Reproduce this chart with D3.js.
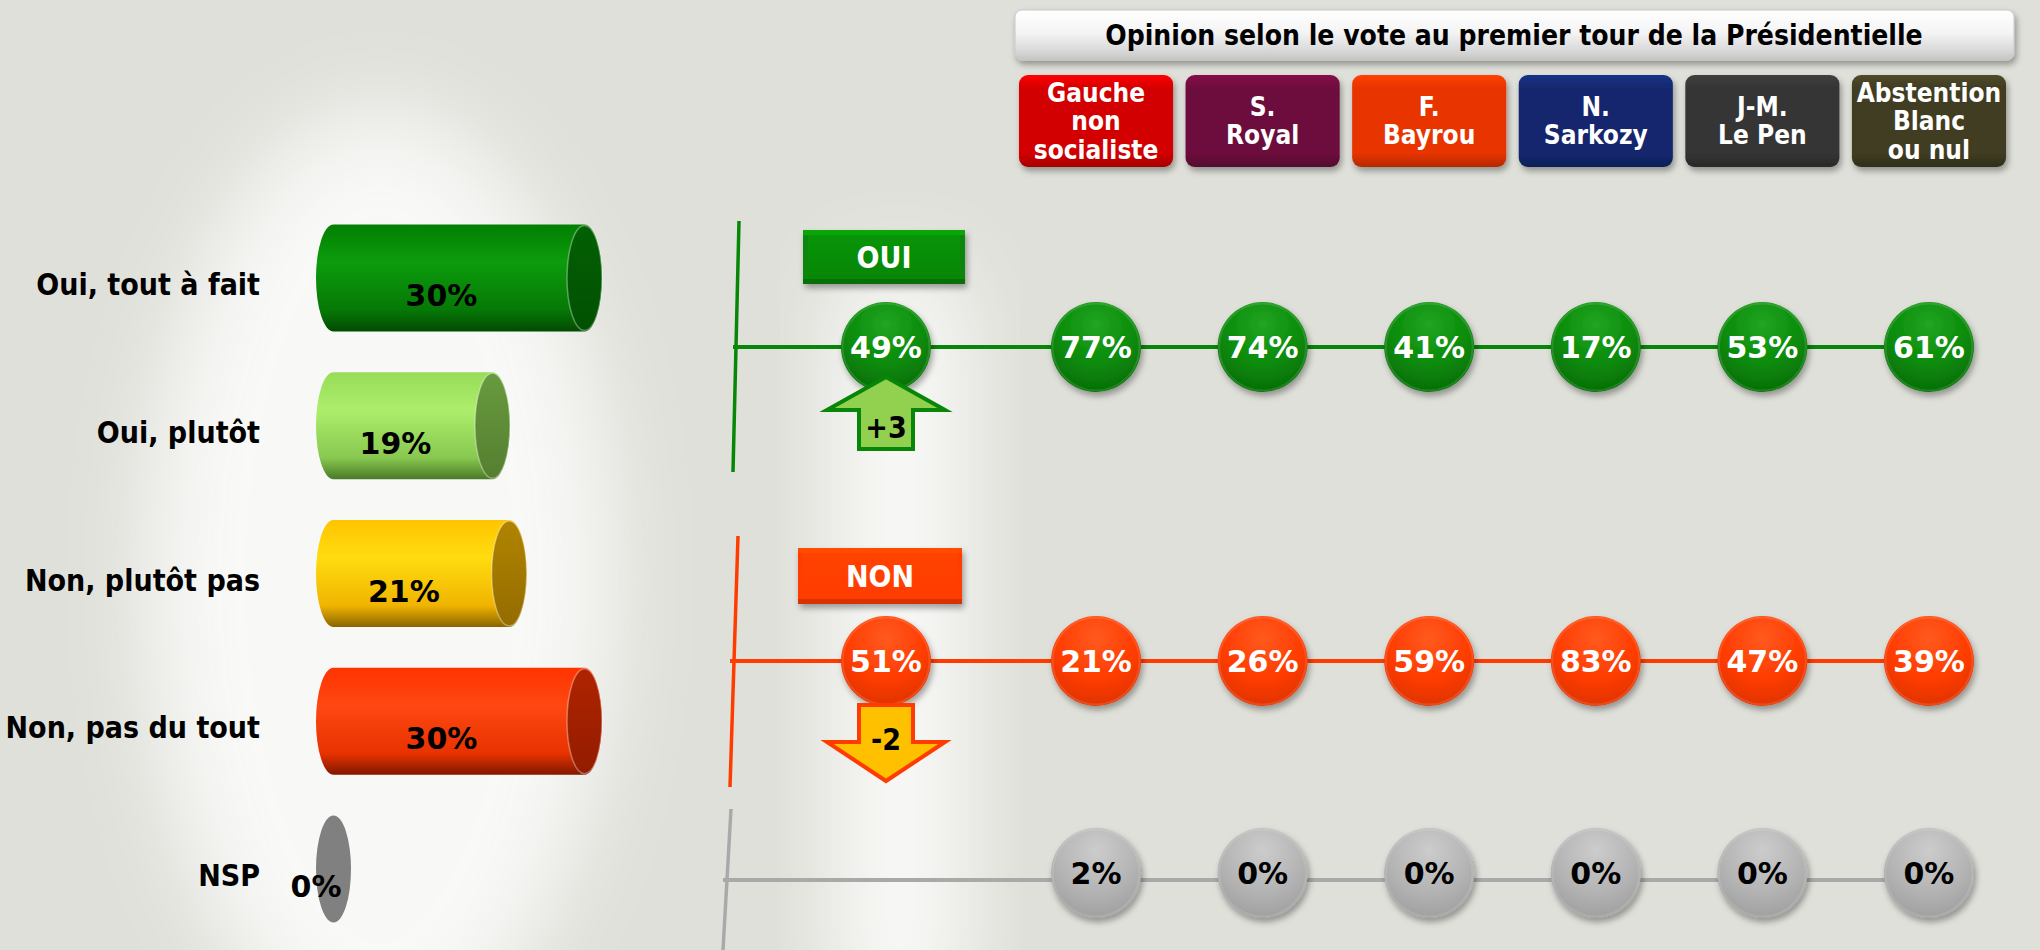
<!DOCTYPE html>
<html>
<head>
<meta charset="utf-8">
<script src="https://cdn.jsdelivr.net/npm/d3@7"></script>
<style>
  body { margin: 0; background: #e0e0da; }
  svg { display: block; }
</style>
</head>
<body>
<svg id="chart" width="2040" height="950"></svg>
<script>
// ---------------- DATA ----------------
const rowLabels = ["Oui, tout à fait", "Oui, plutôt", "Non, plutôt pas", "Non, pas du tout", "NSP"];
const rowValues = [30, 19, 21, 30, 0];

const candidates = ["Gauche non socialiste", "S. Royal", "F. Bayrou", "N. Sarkozy", "J-M. Le Pen", "Abstention Blanc ou nul"];
const candidateLines = [["Gauche", "non", "socialiste"], ["S.", "Royal"], ["F.", "Bayrou"], ["N.", "Sarkozy"], ["J-M.", "Le Pen"], ["Abstention", "Blanc", "ou nul"]];

const title = "Opinion selon le vote au premier tour de la Présidentielle";
const groupLabels = ["OUI", "NON"];
const totalValues = [49, 51];           // OUI, NON overall
const evolutions = ["+3", "-2"];        // change vs previous wave
const ouiByVote = [77, 74, 41, 17, 53, 61];
const nonByVote = [21, 26, 59, 83, 47, 39];
const nspByVote = [2, 0, 0, 0, 0, 0];

// ---------------- STYLES ----------------
const barStyles = [
  { body: ["#027f02", "#0c9c0c", "#067806", "#034a03"], cap: ["#036003", "#025002"] },
  { body: ["#98dc58", "#acee6c", "#88c850", "#4a7a26"], cap: ["#679a3e", "#557f30"] },
  { body: ["#ffc400", "#ffdc10", "#f0b400", "#8a6400"], cap: ["#b08400", "#946c00"] },
  { body: ["#ff3300", "#ff4812", "#e83200", "#801800"], cap: ["#b02400", "#921c00"] },
  { body: ["#808080", "#808080", "#808080", "#808080"], cap: ["#808080", "#808080"] }
];
const candColors = ["#d20000", "#6c0a3c", "#e83400", "#13286e", "#343434", "#3f3c22"];
const green = "#078607", red = "#ff3c00", grey = "#a9a9a9";

const FONT_C = "'DejaVu Sans Condensed','DejaVu Sans',sans-serif";
const FONT = "'DejaVu Sans',sans-serif";

const svg = d3.select("#chart");
const defs = svg.append("defs");

function linGrad(id, stops, vertical = true) {
  const g = defs.append("linearGradient").attr("id", id)
    .attr("x1", 0).attr("y1", 0).attr("x2", vertical ? 0 : 1).attr("y2", vertical ? 1 : 0);
  stops.forEach(s => g.append("stop").attr("offset", s[0]).attr("stop-color", s[1]).attr("stop-opacity", s[2] === undefined ? 1 : s[2]));
  return `url(#${id})`;
}
function radGrad(id, stops, cx = "50%", cy = "40%", r = "60%") {
  const g = defs.append("radialGradient").attr("id", id).attr("cx", cx).attr("cy", cy).attr("r", r);
  stops.forEach(s => g.append("stop").attr("offset", s[0]).attr("stop-color", s[1]).attr("stop-opacity", s[2] === undefined ? 1 : s[2]));
  return `url(#${id})`;
}
const shadow = defs.append("filter").attr("id", "shadow").attr("x", "-30%").attr("y", "-30%").attr("width", "160%").attr("height", "170%");
shadow.append("feDropShadow").attr("dx", 2).attr("dy", 4).attr("stdDeviation", 3).attr("flood-color", "#000").attr("flood-opacity", 0.35);
const blur = defs.append("filter").attr("id", "blur").attr("x", "-50%").attr("y", "-50%").attr("width", "200%").attr("height", "200%");
blur.append("feGaussianBlur").attr("stdDeviation", 45);

// ---------------- BACKGROUND ----------------
svg.append("rect").attr("width", 2040).attr("height", 950).attr("fill", "#e0e0da");
svg.append("ellipse").attr("cx", 380).attr("cy", 580).attr("rx", 230).attr("ry", 470)
  .attr("fill", "#ffffff").attr("opacity", 0.8).attr("filter", "url(#blur)");
svg.append("rect").attr("x", 840).attr("y", 270).attr("width", 120).attr("height", 760)
  .attr("fill", "#ffffff").attr("opacity", 0.85).attr("filter", "url(#blur)");

// ---------------- LEFT: CYLINDER BARS ----------------
const yRow = d3.scalePoint().domain(rowLabels).range([278, 869]);
const xLen = d3.scaleLinear().domain([0, 30]).range([0, 251]);
const barX0 = 316, capRx = 17.5, capRy = 53.5;

rowLabels.forEach((lab, i) => {
  const v = rowValues[i];
  const cy = yRow(lab);
  const st = barStyles[i];
  const xl = barX0 + capRx, xr = xl + xLen(v);
  const g = svg.append("g");
  if (v > 0) {
    const bodyFill = linGrad("bar" + i, [[0, st.body[0]], [0.35, st.body[1]], [0.8, st.body[2]], [1, st.body[3]]]);
    const capFill = linGrad("cap" + i, [[0, st.cap[0]], [1, st.cap[1]]]);
    g.append("path")
      .attr("d", `M${xl},${cy - capRy} L${xr},${cy - capRy} A${capRx},${capRy} 0 0 1 ${xr},${cy + capRy} L${xl},${cy + capRy} A${capRx},${capRy} 0 0 1 ${xl},${cy - capRy} Z`)
      .attr("fill", bodyFill);
    g.append("ellipse").attr("cx", xr).attr("cy", cy).attr("rx", capRx).attr("ry", capRy - 1)
      .attr("fill", capFill).attr("stroke", "rgba(255,255,255,0.35)").attr("stroke-width", 1.5);
  } else {
    g.append("ellipse").attr("cx", xl).attr("cy", cy).attr("rx", capRx).attr("ry", capRy).attr("fill", st.cap[0]);
  }
  g.append("text")
    .attr("x", (barX0 + xr - capRx) / 2).attr("y", cy + 28)
    .attr("text-anchor", "middle").attr("font-family", FONT).attr("font-weight", "bold")
    .attr("font-size", 30).attr("fill", "#000").text(v + "%");
  svg.append("text")
    .attr("x", 260).attr("y", cy + 17)
    .attr("text-anchor", "end").attr("font-family", FONT_C).attr("font-stretch", "condensed")
    .attr("font-weight", "bold").attr("font-size", 30).attr("fill", "#000").text(lab);
});

// ---------------- RIGHT: HEADER ----------------
const xCand = d3.scaleBand().domain(candidates).range([1019, 2006]).paddingInner(0.075).paddingOuter(0);
const xTotal = 886;

const hdr = svg.append("g");
hdr.append("rect").attr("x", 1015).attr("y", 10).attr("width", 999).attr("height", 50).attr("rx", 7)
  .attr("fill", linGrad("hdr", [[0, "#ffffff"], [0.45, "#f4f4f4"], [0.8, "#dadada"], [1, "#c4c4c4"]]))
  .attr("stroke", "#c8c8c8").attr("stroke-width", 1).attr("filter", "url(#shadow)");
hdr.append("text").attr("x", 1514).attr("y", 45).attr("text-anchor", "middle")
  .attr("font-family", FONT_C).attr("font-stretch", "condensed").attr("font-weight", "bold")
  .attr("font-size", 28).attr("fill", "#000").text(title);

candidates.forEach((c, i) => {
  const x = xCand(c), w = xCand.bandwidth();
  const col = d3.color(candColors[i]);
  const g = svg.append("g");
  g.append("rect").attr("x", x).attr("y", 75).attr("width", w).attr("height", 92).attr("rx", 9)
    .attr("fill", linGrad("cand" + i, [[0, col.brighter(0.6).formatHex()], [0.15, col.formatHex()], [0.85, col.formatHex()], [1, col.darker(0.7).formatHex()]]))
    .attr("filter", "url(#shadow)");
  const lines = candidateLines[i];
  const lh = 28.5;
  const y0 = 121 - (lines.length - 1) * lh / 2 + 9;
  const t = g.append("text").attr("text-anchor", "middle")
    .attr("font-family", FONT_C).attr("font-stretch", "condensed").attr("font-weight", "bold")
    .attr("font-size", 26).attr("fill", "#fff");
  lines.forEach((ln, k) => t.append("tspan").attr("x", x + w / 2).attr("y", y0 + k * lh).text(ln));
});

// ---------------- RIGHT: ROWS OF BUBBLES ----------------
const rows = [
  { key: "OUI", y: 347, lineY: 347, color: green, vals: ouiByVote, total: totalValues[0],
    axis: [[739, 221], [733, 472]], bubble: ["#22a522", "#088a08", "#066e06"], text: "#fff" },
  { key: "NON", y: 661, lineY: 661, color: red, vals: nonByVote, total: totalValues[1],
    axis: [[738, 536], [730, 787]], bubble: ["#ff5a20", "#ff3c00", "#e03400"], text: "#fff" },
  { key: "NSP", y: 873, lineY: 880, color: grey, vals: nspByVote, total: null,
    axis: [[731, 809], [723, 950]], bubble: ["#cccccc", "#b4b4b4", "#a0a0a0"], text: "#000" }
];

rows.forEach((r, ri) => {
  const g = svg.append("g");
  g.append("line").attr("x1", r.axis[0][0]).attr("y1", r.axis[0][1]).attr("x2", r.axis[1][0]).attr("y2", r.axis[1][1])
    .attr("stroke", r.color).attr("stroke-width", 3.5);
  const xEnd = xCand(candidates[candidates.length - 1]) + xCand.bandwidth() / 2;
  g.append("line").attr("x1", d3.min(r.axis, d => d[0])).attr("x2", xEnd).attr("y1", r.lineY).attr("y2", r.lineY)
    .attr("stroke", r.color).attr("stroke-width", 4);

  const fill = radGrad("bub" + ri, [[0, r.bubble[0]], [0.6, r.bubble[1]], [1, r.bubble[2]]], "50%", "25%", "75%");
  const pts = r.vals.map((v, i) => ({ x: xCand(candidates[i]) + xCand.bandwidth() / 2, v }));
  if (r.total !== null) pts.unshift({ x: xTotal, v: r.total });

  const b = g.selectAll("g.b").data(pts).join("g");
  b.append("circle").attr("cx", d => d.x).attr("cy", r.y).attr("r", 45)
    .attr("fill", fill).attr("filter", "url(#shadow)");
  b.append("circle").attr("cx", d => d.x).attr("cy", r.y).attr("r", 43.5)
    .attr("fill", "none").attr("stroke", "#ffffff").attr("stroke-opacity", 0.12).attr("stroke-width", 2);
  b.append("text").attr("x", d => d.x).attr("y", r.y + 11).attr("text-anchor", "middle")
    .attr("font-family", FONT).attr("font-weight", "bold").attr("font-size", 30)
    .attr("fill", r.text).text(d => d.v + "%");
});

// ---------------- OUI / NON LABEL BOXES ----------------
const boxes = [
  { label: groupLabels[0], x: 803, y: 230, w: 162, h: 54, color: green },
  { label: groupLabels[1], x: 798, y: 548, w: 164, h: 56, color: red }
];
boxes.forEach((bx, i) => {
  const c = d3.color(bx.color);
  const g = svg.append("g");
  g.append("rect").attr("x", bx.x).attr("y", bx.y).attr("width", bx.w).attr("height", bx.h)
    .attr("fill", c.formatHex()).attr("filter", "url(#shadow)");
  g.append("rect").attr("x", bx.x + 5).attr("y", bx.y + 5).attr("width", bx.w - 10).attr("height", bx.h - 10)
    .attr("fill", linGrad("box" + i, [[0, c.brighter(0.3).formatHex()], [1, c.formatHex()]]));
  g.append("rect").attr("x", bx.x).attr("y", bx.y).attr("width", bx.w).attr("height", 5)
    .attr("fill", c.brighter(0.7).formatHex()).attr("opacity", 0.8);
  g.append("rect").attr("x", bx.x).attr("y", bx.y + bx.h - 5).attr("width", bx.w).attr("height", 5)
    .attr("fill", c.darker(0.6).formatHex()).attr("opacity", 0.8);
  g.append("text").attr("x", bx.x + bx.w / 2).attr("y", bx.y + bx.h / 2 + 11).attr("text-anchor", "middle")
    .attr("font-family", FONT_C).attr("font-stretch", "condensed").attr("font-weight", "bold")
    .attr("font-size", 30).attr("fill", "#fff").text(bx.label);
});

// ---------------- EVOLUTION ARROWS ----------------
const cx = xTotal;
svg.append("path")
  .attr("d", `M${cx},377 L${cx + 59},410 L${cx + 27},410 L${cx + 27},449 L${cx - 27},449 L${cx - 27},410 L${cx - 59},410 Z`)
  .attr("fill", "#92d050").attr("stroke", green).attr("stroke-width", 4).attr("stroke-linejoin", "miter");
svg.append("text").attr("x", cx).attr("y", 438).attr("text-anchor", "middle")
  .attr("font-family", FONT_C).attr("font-stretch", "condensed").attr("font-weight", "bold")
  .attr("font-size", 30).attr("fill", "#000").text(evolutions[0]);
svg.append("path")
  .attr("d", `M${cx - 27},705 L${cx + 27},705 L${cx + 27},742 L${cx + 59},742 L${cx},781 L${cx - 59},742 L${cx - 27},742 Z`)
  .attr("fill", "#ffc000").attr("stroke", red).attr("stroke-width", 4).attr("stroke-linejoin", "miter");
svg.append("text").attr("x", cx).attr("y", 750).attr("text-anchor", "middle")
  .attr("font-family", FONT_C).attr("font-stretch", "condensed").attr("font-weight", "bold")
  .attr("font-size", 30).attr("fill", "#000").text(evolutions[1]);
</script>
</body>
</html>
